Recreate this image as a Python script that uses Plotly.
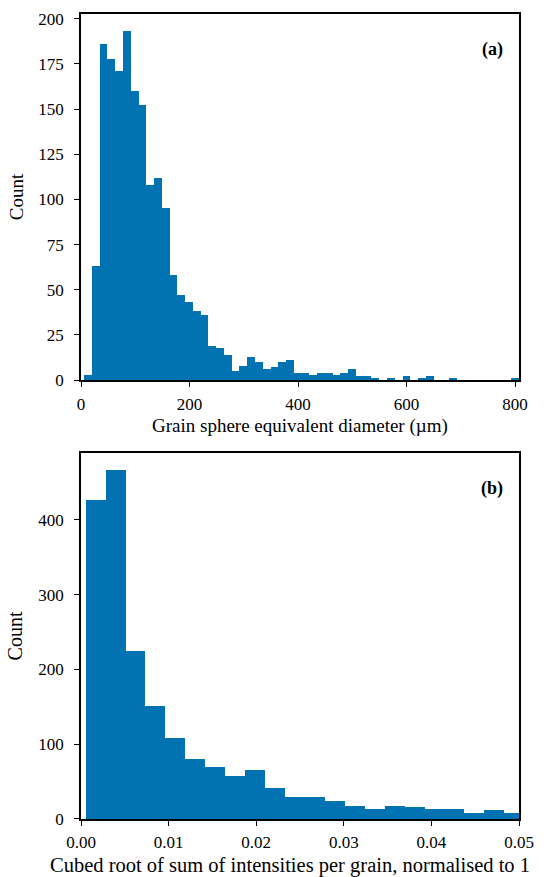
import plotly.graph_objects as go
from plotly.subplots import make_subplots

# ---- data: (a) grain sphere equivalent diameter histogram ----
diam_bin_start = 5.9          # µm, left edge of first bin
diam_bin_width = 14.31        # µm
diam_counts = [3, 63, 186, 178, 171, 193, 160, 152, 108, 112, 95, 58, 47, 43, 38, 36,
               19, 18, 14, 5, 8, 13, 10, 6, 7, 10, 11, 4, 4, 3, 4, 4, 3, 4, 6, 2,
               2, 1, 0, 1, 0, 2, 0, 1, 2, 0, 0, 1, 0, 0, 0, 0, 0, 0, 0, 1]
diam_ticks = [0, 200, 400, 600, 800]
diam_ymax = 193 * 1.05

# ---- data: (b) cubed root of summed intensities histogram ----
inten_bin_start = 0.00053
inten_bin_width = 0.002276
inten_counts = [426, 466, 224, 151, 108, 80, 69, 58, 66, 42, 30, 30, 24, 18, 14, 17,
                16, 14, 14, 8, 12, 8]
inten_ticks = [0.00, 0.01, 0.02, 0.03, 0.04, 0.05]
inten_ymax = 466 * 1.05

diam_x = [diam_bin_start + i * diam_bin_width for i in range(len(diam_counts))]
inten_x = [inten_bin_start + i * inten_bin_width for i in range(len(inten_counts))]
diam_xmax = diam_bin_start + len(diam_counts) * diam_bin_width

COLOR = "#0173b2"
FONT = "Liberation Serif"
TICK_SIZE = 17

fig = make_subplots(rows=2, cols=1, vertical_spacing=0.0906)

fig.add_trace(go.Bar(x=diam_x, y=diam_counts, width=diam_bin_width, offset=0,
                     marker=dict(color=COLOR, line=dict(width=0)), showlegend=False),
              row=1, col=1)
fig.add_trace(go.Bar(x=inten_x, y=inten_counts, width=inten_bin_width, offset=0,
                     marker=dict(color=COLOR, line=dict(width=0)), showlegend=False),
              row=2, col=1)

axis_common = dict(showline=True, linecolor="black", linewidth=1.5, mirror=True,
                   ticks="outside", ticklen=5, tickwidth=1.2, tickcolor="black",
                   showgrid=False, zeroline=False, automargin=False,
                   tickfont=dict(family=FONT, size=TICK_SIZE, color="black"))

fig.update_xaxes(axis_common, ticklabelstandoff=3)
fig.update_yaxes(axis_common, ticklabelstandoff=7)

fig.update_xaxes(range=[0, diam_xmax], tickvals=diam_ticks, row=1, col=1)
fig.update_yaxes(range=[0, diam_ymax], dtick=25,
                 title=dict(text="Count", font=dict(family=FONT, size=19, color="black"),
                            standoff=10),
                 row=1, col=1)
fig.update_xaxes(range=[0, 0.05], tickvals=inten_ticks, tickformat=".2f",
                 ticklabelstandoff=2, row=2, col=1)
fig.update_yaxes(range=[0, inten_ymax], dtick=100,
                 title=dict(text="Count", font=dict(family=FONT, size=20, color="black"),
                            standoff=10),
                 row=2, col=1)

# x-axis titles
fig.add_annotation(text="Grain sphere equivalent diameter (µm)", xref="paper", yref="y domain",
                   x=0.5, y=0, xanchor="center", yanchor="middle", yshift=-46,
                   showarrow=False, font=dict(family=FONT, size=19, color="black"))
fig.add_annotation(text="Cubed root of sum of intensities per grain, normalised to 1",
                   xref="paper", yref="y2 domain", x=0.477, y=0, xanchor="center",
                   yanchor="middle", yshift=-46,
                   showarrow=False, font=dict(family=FONT, size=20.5, color="black"))

for ref, label in [("", "(a)"), ("2", "(b)")]:
    fig.add_annotation(text=f"<b>{label}</b>", xref=f"x{ref} domain", yref=f"y{ref} domain",
                       x=1, y=1, xanchor="right", yanchor="top", xshift=-14, yshift=-23,
                       showarrow=False, font=dict(family=FONT, size=18, color="black"))

fig.update_layout(width=544, height=877, margin=dict(l=81, r=25, t=14, b=58),
                  paper_bgcolor="white", plot_bgcolor="white", bargap=0,
                  font=dict(family=FONT, color="black"))

fig.write_html("out.html")
